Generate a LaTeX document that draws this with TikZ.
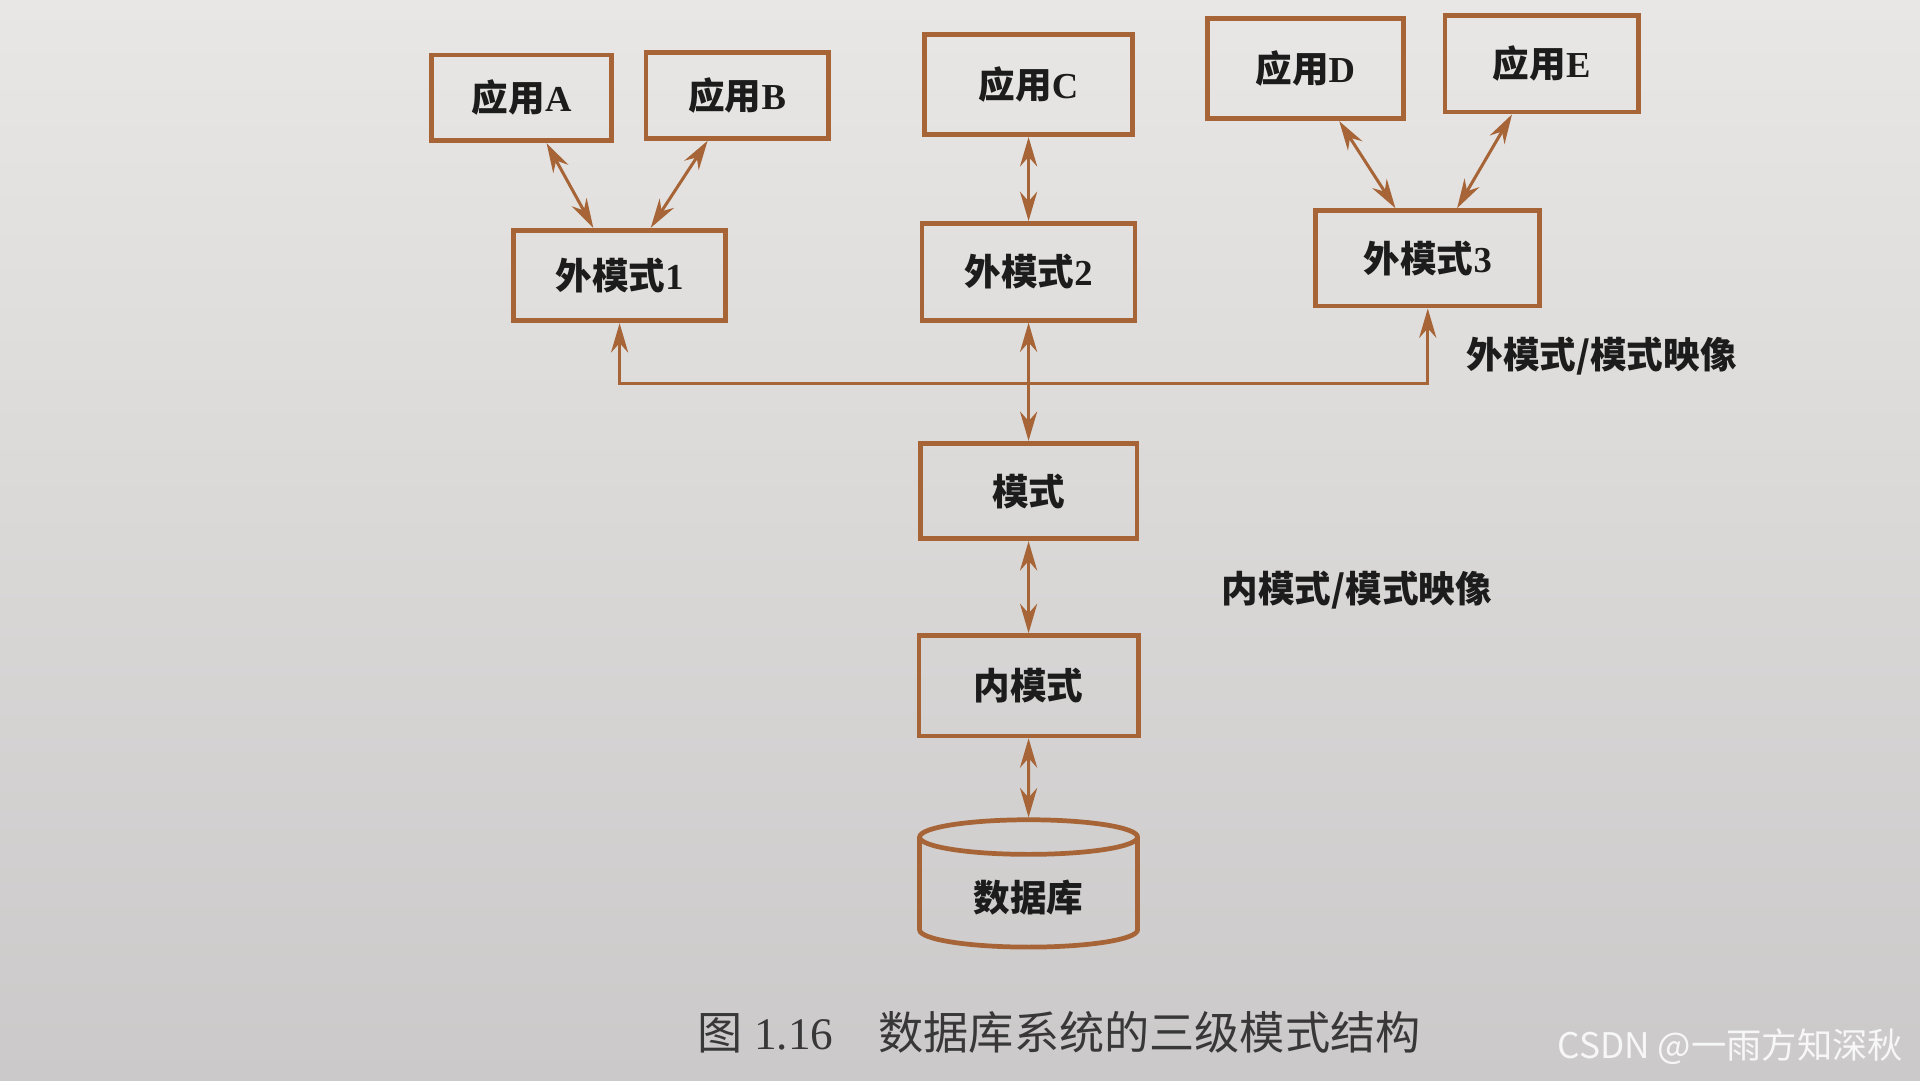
\documentclass[tikz,border=0pt]{standalone}
\usepackage{fontspec}
\setmainfont{Liberation Serif}
\newfontfamily\cjk{Noto Sans CJK SC}
\usetikzlibrary{arrows.meta,shapes.geometric}
\definecolor{rim}{HTML}{A66437}
\definecolor{paperhi}{HTML}{E8E7E5}
\definecolor{paperlo}{HTML}{CBC9C9}
\definecolor{ink}{HTML}{1C1C1C}
\begin{document}
\begin{tikzpicture}[thick,
        every node/.style={text=ink, font=\bfseries\fontsize{8.5}{10}\selectfont},
        box/.style={rectangle, draw=rim, line width=1.1pt, minimum width=1.6cm, minimum height=0.75cm},
        db/.style={cylinder, shape border rotate=90, aspect=0.25, draw=rim, line width=1.1pt,
            minimum width=1.78cm, minimum height=1.04cm},
        link/.style={draw=rim, line width=0.7pt, {Stealth[length=2.4mm,width=1.4mm]}-{Stealth[length=2.4mm,width=1.4mm]}},
        up/.style={draw=rim, line width=0.7pt, -{Stealth[length=2.4mm,width=1.4mm]}}]
    \fill[top color=paperhi, bottom color=paperlo] (0,0) rectangle (15.68,8.82);

    \node[box, minimum width=1.47cm, minimum height=0.70cm] (appA) at (4.26,8.02) {{\cjk 应用}A};
    \node[box, minimum width=1.49cm, minimum height=0.70cm] (appB) at (6.02,8.04) {{\cjk 应用}B};
    \node[box, minimum width=1.70cm, minimum height=0.82cm] (appC) at (8.40,8.13) {{\cjk 应用}C};
    \node[box, minimum width=1.60cm, minimum height=0.82cm] (appD) at (10.66,8.26) {{\cjk 应用}D};
    \node[box, minimum width=1.58cm, minimum height=0.79cm] (appE) at (12.59,8.30) {{\cjk 应用}E};

    \node[box, minimum width=1.73cm, minimum height=0.74cm] (ext1) at (5.06,6.57) {{\cjk 外模式}1};
    \node[box, minimum width=1.74cm, minimum height=0.79cm] (ext2) at (8.40,6.60) {{\cjk 外模式}2};
    \node[box, minimum width=1.83cm, minimum height=0.78cm] (ext3) at (11.66,6.71) {{\cjk 外模式}3};

    \node[box, minimum width=1.77cm, minimum height=0.78cm] (schema) at (8.40,4.81) {\cjk 模式};
    \node[box, minimum width=1.79cm, minimum height=0.82cm] (inner) at (8.40,3.22) {\cjk 内模式};
    \node[db] (base) at (8.40,1.49) {\cjk 数据库};

    \node (mapA) at (13.08,5.91) {\cjk 外模式/模式映像};
    \node (mapB) at (11.08,4.00) {\cjk 内模式/模式映像};

    \draw[link] (appA) -- (ext1);
    \draw[link] (appB) -- (ext1);
    \draw[link] (appC) -- (ext2);
    \draw[link] (appD) -- (ext3);
    \draw[link] (appE) -- (ext3);

    \coordinate (bus) at (8.40,5.69);
    \draw[up] (bus) -| (ext1.south);
    \draw[up] (bus) -| (ext3.south);
    \draw[link] (ext2) -- (schema);
    \draw[link] (schema) -- (inner);
    \draw[link] (inner) -- (base);

    \node[font=\fontsize{10.5}{12}\selectfont, text=black!78] (cap) at (8.65,0.39)
        {{\cjk 图}~1.16\hspace{1em}{\cjk 数据库系统的三级模式结构}};
    \node[font=\cjk\fontsize{8.2}{10}\selectfont, text=white!94!gray] (mark) at (14.13,0.27)
        {CSDN @一雨方知深秋};
\end{tikzpicture}
\end{document}
